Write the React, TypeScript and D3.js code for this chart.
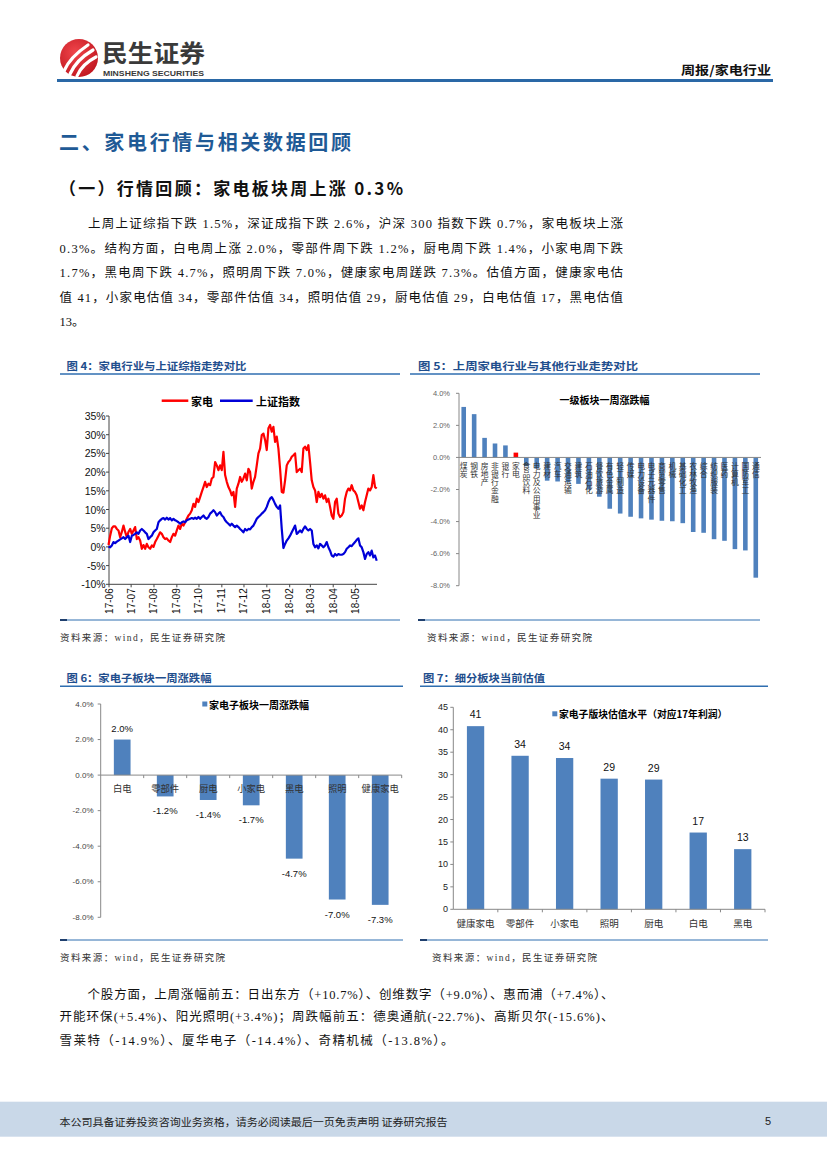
import React from "react";
import * as d3 from "d3";

// ---------- Data ----------
// 图4: 家电 vs 上证指数 cumulative % (Jun 2017 – May 2018)
const jiadian = [
  0.5, 3, 5, 5.5, 5.5, 4.8, 4.4, 2.6, 4, 5.7, 4, 2.6, 4, 4.8, 3.5, 4.4, 5.3, 2.1, 2.6, 1.7,
  -0.5, 0.5, -0.5, 0.8, -0.1, -0.5, 0.4, 0, 1.3, 2.1, 3, 3.9, 3.5, 2.6, 2.1, 2.3, 1.7, 1.3, 2.6, 3.5,
  3, 4.4, 5.7, 4.8, 6.2, 5.7, 6.6, 7.5, 8.4, 8.9, 9.8, 11.5, 10.7, 12.9, 12, 13.3, 14.7, 16, 17.4, 16,
  16.9, 16.5, 18.3, 18.7, 22.7, 21.8, 20.5, 21.8, 20.5, 25.4, 19.2, 17.4, 16, 15.1, 13.8, 14.7, 10.7, 15.6, 16.9, 18.7,
  17.4, 18.3, 19.6, 17.8, 20.9, 20, 15.6, 17.4, 18.7, 21.8, 25, 26.3, 29.9, 30.3, 28.6, 25.9, 31.7, 32.6, 30.8, 32.1,
  28.1, 29.5, 26.3, 20.9, 14.7, 14.5, 17.8, 21.8, 22.7, 23.2, 24.1, 24.5, 25, 20, 20.5, 20.9, 20, 26.3, 26.8, 25.9,
  27.2, 22.7, 17.8, 16, 15.1, 12, 14.7, 13.3, 14.2, 12.9, 13.8, 12, 12.9, 10.7, 8.4, 7.5, 12, 12.9, 8.9, 8,
  8.4, 9.3, 12.9, 14.7, 15.6, 15.1, 16.5, 15.1, 14.7, 13.8, 12, 10.2, 11.1, 9.8, 12, 13.8, 15.6, 15.1, 16, 19.2,
  16, 15.6,
];
const shangzheng = [
  0, -0.1, 0.4, 1.3, 1, 1.4, 1.7, 2, 2.3, 2.6, 2.1, 2.6, 3, 1.3, 3, 3.2, 3.5, 3.9, 3.5, 4.4,
  4.8, 4.4, 3.9, 3.5, 2.1, 2.6, 3, 3.9, 4.4, 4.8, 6.6, 7.1, 7.5, 7.7, 7.3, 7.8, 7.3, 7.7, 7.1, 7.5,
  7.1, 6.9, 6.6, 6.2, 6.6, 6.8, 6.6, 7.1, 7.3, 7.5, 7.7, 7.5, 7.8, 7.5, 8, 7.5, 8, 8.4, 7.8, 7.5,
  8, 8.9, 9.3, 9.8, 9.3, 8.4, 8.9, 9.3, 8.4, 8, 7.1, 6.6, 6.2, 5.7, 6.2, 5.7, 5.3, 5.7, 5.3, 4.8,
  4.4, 3.9, 4.8, 4.4, 4.8, 4.7, 5.3, 5.7, 6.6, 7.5, 8, 8.4, 8.9, 9.3, 9.8, 10.7, 12, 12.9, 13.3, 12.5,
  11.5, 10.7, 10.2, 11.1, 4.8, -0.3, 0.8, 1.7, 2.3, 3, 3.9, 4.8, 5.7, 3.5, 3.9, 4.4, 3.9, 4.8, 5.5, 4.8,
  4.4, 4.8, 4.4, 0.8, -0.1, 0.4, -0.4, 0.8, 0.4, -0.1, 0.4, 1.3, -0.1, -1, -2.3, -2.6, -1.9, -2.3, -1.9, -2.1,
  -2.1, -1.9, -1.4, -0.5, -0.1, 0.4, 0.2, 0.8, 1.3, 1.9, 2.3, 0.4, -0.1, -1.4, -3.2, -1.9, -1.4, -2.3, -1, -2.8,
  -2.3, -3.7,
];
const fig4Start = new Date(2017, 5, 1);
const fig4End = new Date(2018, 5, 1);
const fig4YTicks = [-10, -5, 0, 5, 10, 15, 20, 25, 30, 35];

// 图5: 一级板块一周涨跌幅 (%)
const industries = [
  "煤炭", "钢铁", "房地产", "非银行金融", "银行", "家电", "食品饮料", "电力及公用事业", "建材", "汽车",
  "交通运输", "建筑", "石油石化", "餐饮旅游", "有色金属", "轻工制造", "传媒", "电力设备", "电子元器件", "商贸零售",
  "机械", "基础化工", "农林牧渔", "综合", "纺织服装", "医药", "计算机", "国防军工", "通信",
];
const industryChg = [
  3.15, 2.7, 1.22, 0.87, 0.75, 0.3, -0.55, -0.7, -1.45, -1.5,
  -1.55, -1.65, -2.0, -2.45, -3.2, -3.5, -3.7, -3.8, -3.88, -3.95,
  -3.98, -4.1, -4.65, -4.7, -5.1, -5.2, -5.72, -5.8, -7.5,
];
const highlightIndustry = "家电";
const fig5YTicks = [-8, -6, -4, -2, 0, 2, 4];

// 图6: 家电子板块一周涨跌幅 (%)
const subCats = ["白电", "零部件", "厨电", "小家电", "黑电", "照明", "健康家电"];
const subChg = [2.0, -1.2, -1.4, -1.7, -4.7, -7.0, -7.3];
const fig6YTicks = [-8, -6, -4, -2, 0, 2, 4];

// 图7: 细分板块当前估值 (PE, 2017 profits)
const valCats = ["健康家电", "零部件", "小家电", "照明", "厨电", "白电", "黑电"];
const valPE = [40.8, 34.2, 33.7, 29.1, 28.9, 17.1, 13.4];
const fig7YTicks = [0, 5, 10, 15, 20, 25, 30, 35, 40, 45];

// ---------- Styles ----------
const SANS = "'Liberation Sans', Arial, 'Noto Sans CJK SC', sans-serif";
const HEI = "'Noto Sans CJK SC', 'Liberation Sans', sans-serif";
const SERIF = "'Liberation Serif', 'Noto Sans CJK SC', serif";
const BAR = "#4F81BD";
const CAPTION = "#1F4E8D";
const RULE = "#2F6EB0";

const f1 = (v: number) => d3.format(".1f")(v).replace("\u2212", "-");

function Caption({ x, y, text, x0, x1, len }: any) {
  return (
    <g>
      <text x={x} y={y} fontFamily={HEI} fontWeight={700} fontSize={10.5} fill={CAPTION}
        dominantBaseline="central" textLength={len} lengthAdjust="spacingAndGlyphs">{text}</text>
      <line x1={x0} x2={x1} y1={y + 8.5} y2={y + 8.5} stroke={RULE} strokeWidth={1.5} />
    </g>
  );
}

function Source({ x, y, x0, x1, ly }: any) {
  return (
    <g>
      <line x1={x0} x2={x1} y1={ly} y2={ly} stroke={RULE} strokeWidth={1} />
      <line x1={x0} x2={x0 + 7} y1={ly} y2={ly} stroke="#1F3F6E" strokeWidth={2} />
      <text x={x} y={y} fontFamily={SERIF} fontSize={9.5} fill="#333" dominantBaseline="central"
        textLength={165} lengthAdjust="spacing">资料来源：wind，民生证券研究院</text>
    </g>
  );
}

function Header() {
  return (
    <g>
      <defs>
        <radialGradient id="logoG" cx="40%" cy="35%" r="70%">
          <stop offset="0%" stopColor="#F0454B" />
          <stop offset="100%" stopColor="#C0161F" />
        </radialGradient>
      </defs>
      <circle cx={79} cy={58} r={19} fill="url(#logoG)" />
      <path d="M64 71 Q70 57 88 45" stroke="#fff" strokeWidth={3.2} fill="none" strokeLinecap="round" />
      <path d="M70 74 Q76 60 93 50" stroke="#fff" strokeWidth={3.2} fill="none" strokeLinecap="round" />
      <path d="M77 76 Q82 64 96 57" stroke="#fff" strokeWidth={3.2} fill="none" strokeLinecap="round" />
      <text x={102} y={62} fontFamily={HEI} fontWeight={700} fontSize={24} fill="#3A3A3A"
        textLength={103} lengthAdjust="spacingAndGlyphs">民生证券</text>
      <text x={103} y={75.5} fontFamily={SANS} fontWeight={700} fontSize={8} fill="#3A3A3A"
        textLength={101} lengthAdjust="spacingAndGlyphs">MINSHENG SECURITIES</text>
      <text x={681} y={75} fontFamily={HEI} fontWeight={700} fontSize={12.5} fill="#111"
        textLength={90} lengthAdjust="spacingAndGlyphs">周报/家电行业</text>
      <line x1={57} x2={773} y1={80.5} y2={80.5} stroke="#2A68A6" strokeWidth={3} />
    </g>
  );
}

function Para({ x, y, w, text }: any) {
  return (
    <text x={x} y={y} fontFamily={SERIF} fontSize={12.5} fill="#111" dominantBaseline="central"
      textLength={w} lengthAdjust={w ? "spacing" : undefined}>{text}</text>
  );
}

function TopText() {
  return (
    <g>
      <text x={59} y={141} fontFamily={HEI} fontWeight={700} fontSize={20} fill="#1F5A96"
        dominantBaseline="central" textLength={292} lengthAdjust="spacing">二、家电行情与相关数据回顾</text>
      <text x={59} y={187} fontFamily={HEI} fontWeight={700} fontSize={17} fill="#111"
        dominantBaseline="central" textLength={344} lengthAdjust="spacing">（一）行情回顾：家电板块周上涨 0.3%</text>
      <Para x={88} y={224} w={535} text="上周上证综指下跌 1.5%，深证成指下跌 2.6%，沪深 300 指数下跌 0.7%，家电板块上涨" />
      <Para x={59.5} y={248.5} w={563.5} text="0.3%。结构方面，白电周上涨 2.0%，零部件周下跌 1.2%，厨电周下跌 1.4%，小家电周下跌" />
      <Para x={59.5} y={273} w={563.5} text="1.7%，黑电周下跌 4.7%，照明周下跌 7.0%，健康家电周蹉跌 7.3%。估值方面，健康家电估" />
      <Para x={59.5} y={298} w={563.5} text="值 41，小家电估值 34，零部件估值 34，照明估值 29，厨电估值 29，白电估值 17，黑电估值" />
      <Para x={59.5} y={322} text="13。" />
    </g>
  );
}

function BottomText() {
  return (
    <g>
      <Para x={87.5} y={995} w={526} text="个股方面，上周涨幅前五：日出东方（+10.7%）、创维数字（+9.0%）、惠而浦（+7.4%）、" />
      <Para x={59.5} y={1017} w={554} text="开能环保(+5.4%)、阳光照明(+3.4%)；周跌幅前五：德奥通航(-22.7%)、高斯贝尔(-15.6%)、" />
      <Para x={59.5} y={1041} w={394} text="雪莱特（-14.9%）、厦华电子（-14.4%）、奇精机械（-13.8%）。" />
    </g>
  );
}

function Fig4() {
  const x = d3.scaleLinear().domain([0, jiadian.length - 1]).range([108.5, 376.7]);
  const t = d3.scaleTime().domain([fig4Start, fig4End]).range([109, 378.2]);
  const y = d3.scaleLinear().domain([-10, 35]).range([584.3, 416]);
  const line = d3.line<number>().x((_, i) => x(i)).y((d) => y(d));
  const months = t.ticks(d3.timeMonth.every(1) as any).filter((d) => d < fig4End);
  const fmt = d3.timeFormat("%y-%m");
  const x0 = 109, yb = y(-10);
  return (
    <g>
      <Caption x={66.5} y={365.5} text="图 4：家电行业与上证综指走势对比" x0={60} x1={400} len={180} />
      <line x1={161.7} x2={188.3} y1={400.7} y2={400.7} stroke="#FF0000" strokeWidth={2.5} />
      <text x={191} y={400.7} fontFamily={HEI} fontWeight={700} fontSize={11} dominantBaseline="central">家电</text>
      <line x1={220} x2={252.7} y1={400.7} y2={400.7} stroke="#0000D8" strokeWidth={2.5} />
      <text x={256} y={400.7} fontFamily={HEI} fontWeight={700} fontSize={11} dominantBaseline="central">上证指数</text>
      <line x1={x0} x2={x0} y1={y(35)} y2={yb} stroke="#444" strokeWidth={1} />
      {fig4YTicks.map((v) => (
        <g key={v}>
          <line x1={x0 - 3} x2={x0} y1={y(v)} y2={y(v)} stroke="#444" />
          <text x={105.7} y={y(v)} textAnchor="end" dominantBaseline="central" fontFamily={SANS}
            fontSize={10.5} fill="#111">{v}%</text>
        </g>
      ))}
      <line x1={x0} x2={377} y1={yb} y2={yb} stroke="#444" strokeWidth={1} />
      {months.map((m) => (
        <g key={+m}>
          <line x1={t(m)} x2={t(m)} y1={yb} y2={yb + 3} stroke="#444" />
          <text transform={`translate(${t(m)},${yb + 4}) rotate(-90)`} textAnchor="end"
            dominantBaseline="central" fontFamily={SANS} fontSize={10} fill="#111">{fmt(m)}</text>
        </g>
      ))}
      <path d={line(jiadian) || ""} fill="none" stroke="#FF0000" strokeWidth={2.2} strokeLinejoin="round" />
      <path d={line(shangzheng) || ""} fill="none" stroke="#0000D8" strokeWidth={2.2} strokeLinejoin="round" />
      <Source x={60} y={637.7} x0={60} x1={400} ly={620} />
    </g>
  );
}

function Fig5() {
  const xb = d3.scaleBand().domain(industries).range([458.5, 761]).padding(0);
  const y = d3.scaleLinear().domain([-8, 4]).range([585.7, 393.3]);
  const bw = xb.step() * 0.44;
  const ax = 459;
  return (
    <g>
      <Caption x={418} y={365.5} text="图 5：上周家电行业与其他行业走势对比" x0={410} x1={760} len={220} />
      <text x={604.5} y={399} textAnchor="middle" dominantBaseline="central" fontFamily={HEI}
        fontWeight={700} fontSize={10}>一级板块一周涨跌幅</text>
      <line x1={ax} x2={ax} y1={y(4)} y2={y(-8)} stroke="#888" />
      {fig5YTicks.map((v) => (
        <g key={v}>
          <line x1={ax - 3} x2={ax} y1={y(v)} y2={y(v)} stroke="#888" />
          <text x={450} y={y(v)} textAnchor="end" dominantBaseline="central" fontFamily={SANS}
            fontSize={7.5} fill="#666">{f1(v)}%</text>
        </g>
      ))}
      {industries.map((c, i) => {
        const v = industryChg[i];
        const cx = (xb(c) as number) + xb.step() / 2;
        return (
          <rect key={c} x={cx - bw / 2} width={bw} y={Math.min(y(v), y(0))}
            height={Math.abs(y(v) - y(0))} fill={c === highlightIndustry ? "#FF0000" : BAR} />
        );
      })}
      <line x1={ax} x2={761} y1={y(0)} y2={y(0)} stroke="#888" />
      {industries.map((c) => {
        const cx = (xb(c) as number) + xb.step() / 2;
        return (
          <text key={c} x={cx} y={461.7} writingMode="vertical-rl"
            style={{ writingMode: "vertical-rl", textOrientation: "upright" } as any}
            fontFamily={HEI} fontSize={7.8} letterSpacing={0.5} fill="#333">{c}</text>
        );
      })}
      <Source x={427} y={637.7} x0={418} x1={760} ly={620} />
    </g>
  );
}

function Fig6() {
  const xb = d3.scaleBand().domain(subCats).range([100.7, 401.7]).padding(0);
  const y = d3.scaleLinear().domain([-8, 4]).range([917.3, 704]);
  const bw = 16.7;
  const ax = 100.7;
  return (
    <g>
      <Caption x={66.5} y={677.7} text="图 6：家电子板块一周涨跌幅" x0={60} x1={403} len={145} />
      <rect x={202.3} y={701.5} width={5} height={5} fill={BAR} />
      <text x={209} y={704} dominantBaseline="central" fontFamily={HEI} fontWeight={700} fontSize={10}>家电子板块一周涨跌幅</text>
      <line x1={ax} x2={ax} y1={y(4)} y2={y(-8)} stroke="#888" />
      {fig6YTicks.map((v) => (
        <g key={v}>
          <line x1={ax - 3} x2={ax} y1={y(v)} y2={y(v)} stroke="#888" />
          <text x={93.5} y={y(v)} textAnchor="end" dominantBaseline="central" fontFamily={SANS}
            fontSize={8} fill="#444">{f1(v)}%</text>
        </g>
      ))}
      {subCats.map((c, i) => {
        const v = subChg[i];
        const cx = (xb(c) as number) + xb.step() / 2;
        return (
          <g key={c}>
            <rect x={cx - bw / 2} width={bw} y={Math.min(y(v), y(0))} height={Math.abs(y(v) - y(0))} fill={BAR} />
            <text x={cx} y={v >= 0 ? y(v) - 11.5 : y(v) + 14.5} textAnchor="middle" dominantBaseline="central"
              fontFamily={SANS} fontSize={9.5} fill="#111">{f1(v)}%</text>
          </g>
        );
      })}
      <line x1={ax} x2={401.7} y1={y(0)} y2={y(0)} stroke="#888" />
      {subCats.map((c) => (
        <line key={c} x1={(xb(c) as number) + xb.step()} x2={(xb(c) as number) + xb.step()}
          y1={y(0)} y2={y(0) + 3} stroke="#888" />
      ))}
      {subCats.map((c) => (
        <text key={c} x={(xb(c) as number) + xb.step() / 2} y={788.3} textAnchor="middle"
          dominantBaseline="central" fontFamily={HEI} fontSize={9.3} fill="#333">{c}</text>
      ))}
      <Source x={60} y={958.3} x0={60} x1={403} ly={940} />
    </g>
  );
}

function Fig7() {
  const xb = d3.scaleBand().domain(valCats).range([453.3, 765]).padding(0);
  const y = d3.scaleLinear().domain([0, 45]).range([909.3, 707.3]);
  const bw = 17.3;
  const ax = 453.3;
  return (
    <g>
      <Caption x={423} y={677.7} text="图 7：细分板块当前估值" x0={420} x1={768} len={122} />
      <rect x={552.3} y={711.3} width={5} height={5} fill={BAR} />
      <text x={559} y={713.8} dominantBaseline="central" fontFamily={HEI} fontWeight={700} fontSize={9.8}>家电子版块估值水平（对应17年利润）</text>
      <line x1={ax} x2={ax} y1={y(45)} y2={y(0)} stroke="#888" />
      {fig7YTicks.map((v) => (
        <g key={v}>
          <line x1={ax - 3} x2={ax} y1={y(v)} y2={y(v)} stroke="#888" />
          <text x={448} y={y(v)} textAnchor="end" dominantBaseline="central" fontFamily={SANS}
            fontSize={9} fill="#222">{v}</text>
        </g>
      ))}
      {valCats.map((c, i) => {
        const v = valPE[i];
        const cx = (xb(c) as number) + xb.step() / 2;
        return (
          <g key={c}>
            <rect x={cx - bw / 2} width={bw} y={y(v)} height={y(0) - y(v)} fill={BAR} />
            <text x={cx} y={y(v) - 12} textAnchor="middle" dominantBaseline="central"
              fontFamily={SANS} fontSize={10.5} fill="#111">{d3.format(".0f")(v)}</text>
          </g>
        );
      })}
      <line x1={ax} x2={765} y1={y(0)} y2={y(0)} stroke="#888" />
      {valCats.map((c) => (
        <line key={c} x1={(xb(c) as number) + xb.step()} x2={(xb(c) as number) + xb.step()}
          y1={y(0)} y2={y(0) + 3} stroke="#888" />
      ))}
      {valCats.map((c) => (
        <text key={c} x={(xb(c) as number) + xb.step() / 2} y={922.7} textAnchor="middle"
          dominantBaseline="central" fontFamily={HEI} fontSize={9.5} fill="#333">{c}</text>
      ))}
      <Source x={432} y={958.3} x0={420} x1={768} ly={940} />
    </g>
  );
}

function Footer() {
  return (
    <g>
      <rect x={0} y={1101.7} width={827} height={35} fill="#C9D8E8" />
      <text x={59.5} y={1121} dominantBaseline="central" fontFamily={HEI} fontSize={10.3} fill="#222"
        textLength={388} lengthAdjust="spacingAndGlyphs">本公司具备证券投资咨询业务资格，请务必阅读最后一页免责声明 证券研究报告</text>
      <text x={765} y={1121} dominantBaseline="central" fontFamily={SANS} fontSize={11} fill="#222">5</text>
    </g>
  );
}

export default function App() {
  return (
    <svg width={827} height={1169} viewBox="0 0 827 1169"
      style={{ position: "absolute", left: 0, top: 0, background: "#fff" }}>
      <rect width={827} height={1169} fill="#fff" />
      <Header />
      <TopText />
      <Fig4 />
      <Fig5 />
      <Fig6 />
      <Fig7 />
      <BottomText />
      <Footer />
    </svg>
  );
}
